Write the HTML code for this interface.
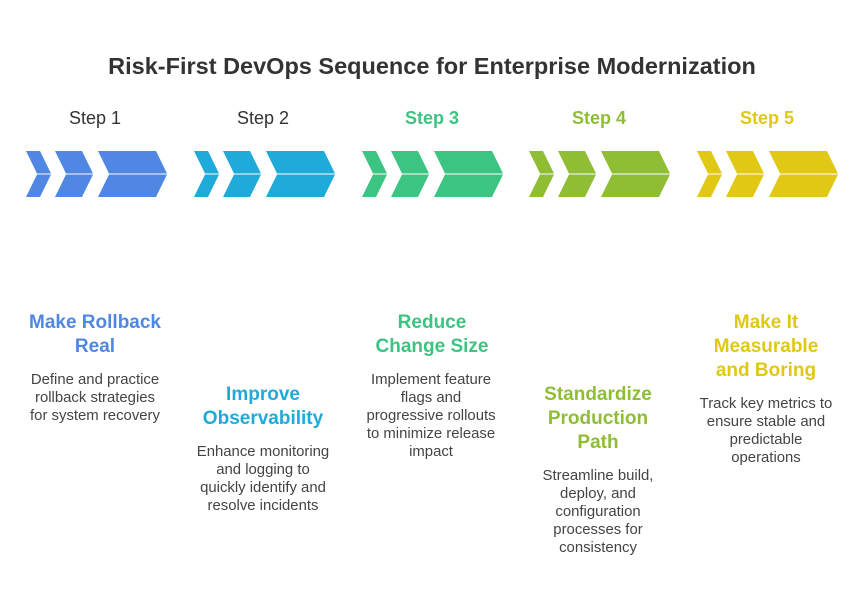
<!DOCTYPE html>
<html><head><meta charset="utf-8"><style>
body{margin:0;width:864px;height:600px;background:#fff;position:relative;font-family:"Liberation Sans",Arial,sans-serif;overflow:hidden}
.t{position:absolute;text-align:center;white-space:nowrap;transform:translateX(-50%)}
.title{left:432px;top:53px;font-size:23.5px;font-weight:bold;color:#333}
.st{top:106px;font-size:18px;line-height:24px}
.h{font-size:19px;font-weight:bold;line-height:24px}
.b{font-size:14.9px;line-height:18px;color:#444}
</style></head><body>
<div class="t title">Risk-First DevOps Sequence for Enterprise Modernization</div>
<div class="t st" style="left:95px;color:#333">Step 1</div>
<div class="t st" style="left:263px;color:#333">Step 2</div>
<div class="t st" style="left:432px;color:#3CC483;font-weight:bold">Step 3</div>
<div class="t st" style="left:599px;color:#8FBE35;font-weight:bold">Step 4</div>
<div class="t st" style="left:767px;color:#E0C814;font-weight:bold">Step 5</div>
<svg width="864" height="600" style="position:absolute;left:0;top:0">
<defs><g id="c">
<polygon points="26,151 40,151 51,173.5 37,173.5"/>
<polygon points="37,174.5 51,174.5 40,197 26,197"/>
<polygon points="55,151 82,151 93,173.5 66,173.5"/>
<polygon points="66,174.5 93,174.5 82,197 55,197"/>
<polygon points="98,151 156,151 167,173.5 109,173.5"/>
<polygon points="109,174.5 167,174.5 156,197 98,197"/>
</g></defs>
<use href="#c" fill="#4F87E3"/>
<use href="#c" fill="#1EABD9" x="168"/>
<use href="#c" fill="#3CC483" x="336"/>
<use href="#c" fill="#8FBE35" x="503"/>
<use href="#c" fill="#E0C814" x="671"/>
</svg>
<div class="t h" style="left:95px;top:311px;color:#4F87E3">Make Rollback<br>Real</div>
<div class="t b" style="left:95px;top:371px">Define and practice<br>rollback strategies<br>for system recovery</div>
<div class="t h" style="left:263px;top:383px;color:#1EABD9">Improve<br>Observability</div>
<div class="t b" style="left:263px;top:443px">Enhance monitoring<br>and logging to<br>quickly identify and<br>resolve incidents</div>
<div class="t h" style="left:432px;top:311px;color:#3CC483">Reduce<br>Change Size</div>
<div class="t b" style="left:431px;top:371px">Implement feature<br>flags and<br>progressive rollouts<br>to minimize release<br>impact</div>
<div class="t h" style="left:598px;top:383px;color:#8FBE35">Standardize<br>Production<br>Path</div>
<div class="t b" style="left:598px;top:467px">Streamline build,<br>deploy, and<br>configuration<br>processes for<br>consistency</div>
<div class="t h" style="left:766px;top:311px;color:#E0C814">Make It<br>Measurable<br>and Boring</div>
<div class="t b" style="left:766px;top:395px">Track key metrics to<br>ensure stable and<br>predictable<br>operations</div>
</body></html>
